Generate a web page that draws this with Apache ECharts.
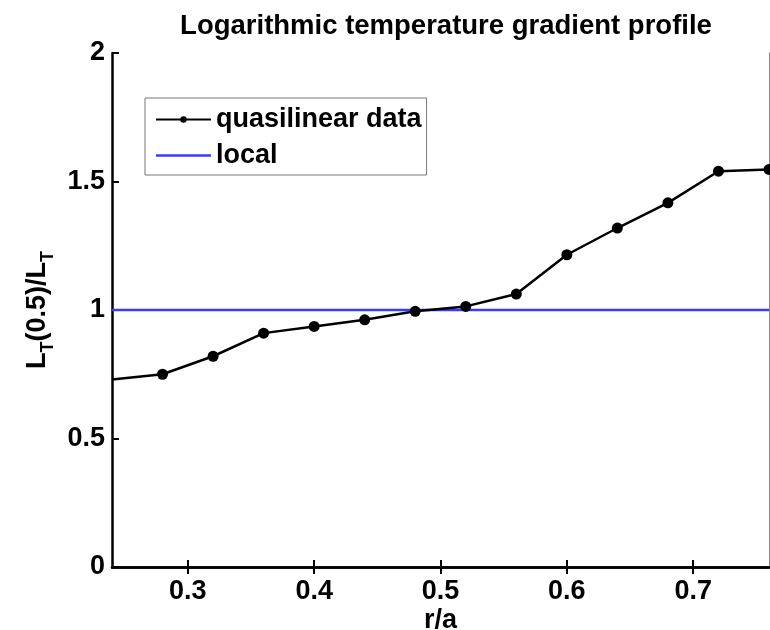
<!DOCTYPE html>
<html><head><meta charset="utf-8">
<script src="https://cdn.jsdelivr.net/npm/echarts@6/dist/echarts.min.js"></script>
<style>html,body{margin:0;padding:0;background:#fff}#c{width:770px;height:630px}</style>
</head><body><div id="c"></div>
<script>
var rOverA = [0.24, 0.28, 0.32, 0.36, 0.40, 0.44, 0.48, 0.52, 0.56, 0.60, 0.64, 0.68, 0.72, 0.76];
var quasilinear = [0.73, 0.75, 0.82, 0.91, 0.936, 0.962, 0.995, 1.014, 1.062, 1.215, 1.319, 1.417, 1.54, 1.547];
var localX = [0.24, 0.76];
var localY = [1, 1];
var xTicks = [0.3, 0.4, 0.5, 0.6, 0.7];
var yTicks = [0, 0.5, 1, 1.5, 2];

var font = 'Liberation Sans, Arial, Helvetica, sans-serif';
var chart = echarts.init(document.getElementById('c'));
var qData = rOverA.map(function (x, i) {
  var d = { value: [x, quasilinear[i]] };
  if (i === 0) d.symbolSize = 0;
  return d;
});
var lData = localX.map(function (x, i) { return [x, localY[i]]; });

chart.setOption({
  animation: false,
  backgroundColor: '#fff',
  title: {
    text: 'Logarithmic temperature gradient profile',
    left: 441, top: 7, textAlign: 'center',
    textStyle: { fontFamily: font, fontWeight: 'bold', fontSize: 27.5, color: '#000' }
  },
  grid: { left: 112, right: 1, top: 53, bottom: 63, outerBoundsMode: 'none', containLabel: false },
  legend: {
    left: 145, top: 98, orient: 'vertical',
    data: [
      { name: 'quasilinear data' },
      { name: 'local', icon: 'path://M0,0 L55,0 L55,2.5 L0,2.5 Z' }
    ],
    backgroundColor: '#fff', borderColor: '#777', borderWidth: 1,
    padding: [8, 5, 6, 10], itemGap: 9, itemWidth: 55, itemHeight: 8,
    textStyle: { fontFamily: font, fontWeight: 'bold', fontSize: 27, color: '#000', padding: [0, 0, 0, 0] }
  },
  xAxis: [{
    type: 'value', min: 0.24, max: 0.76, position: 'bottom',
    name: 'r/a', nameLocation: 'middle', nameGap: 40, nameMoveOverlap: false,
    nameTextStyle: { fontFamily: font, fontWeight: 'bold', fontSize: 27, color: '#000', verticalAlign: 'top' },
    axisLine: { show: true, lineStyle: { color: '#000', width: 2.5 } },
    axisTick: { show: true, inside: true, length: 7, customValues: xTicks, lineStyle: { color: '#000', width: 2 } },
    axisLabel: { customValues: xTicks, margin: 11, fontFamily: font, fontWeight: 'bold', fontSize: 27, color: '#000',
      formatter: function (v) { return v.toFixed(1); } },
    splitLine: { show: false }
  }, {
    type: 'value', min: 0.24, max: 0.76, position: 'top',
    axisLine: { show: true, lineStyle: { color: '#000', width: 2.5 } },
    axisTick: { show: true, inside: true, length: 7, customValues: xTicks, lineStyle: { color: '#000', width: 2 } },
    axisLabel: { show: false }, splitLine: { show: false }
  }],
  yAxis: [{
    type: 'value', min: 0, max: 2, interval: 0.5, position: 'left',
    name: '{n|L}{s|T}{n|(0.5)/L}{s|T}', nameLocation: 'middle', nameGap: 54, nameRotate: 90, nameMoveOverlap: false,
    nameTextStyle: {
      rich: {
        n: { fontFamily: font, fontWeight: 'bold', fontSize: 27, color: '#000', lineHeight: 34, verticalAlign: 'top' },
        s: { fontFamily: font, fontWeight: 'bold', fontSize: 18, color: '#000', lineHeight: 34, padding: [15, 0, 0, 0], verticalAlign: 'top' }
      }
    },
    axisLine: { show: true, lineStyle: { color: '#000', width: 2.5 } },
    axisTick: { show: true, inside: true, length: 7, lineStyle: { color: '#000', width: 2 } },
    axisLabel: { margin: 7, fontFamily: font, fontWeight: 'bold', fontSize: 27, color: '#000',
      customValues: yTicks, formatter: function (v) { return String(v); } },
    splitLine: { show: false }
  }, {
    type: 'value', min: 0, max: 2, interval: 0.5, position: 'right',
    axisLine: { show: true, lineStyle: { color: '#888', width: 1 } },
    axisTick: { show: false }, axisLabel: { show: false }, splitLine: { show: false }
  }],
  series: [{
    name: 'quasilinear data', type: 'line', data: qData,
    symbol: 'circle', symbolSize: 11, clip: true,
    lineStyle: { color: '#000', width: 2.5 }, itemStyle: { color: '#000' }, z: 3
  }, {
    name: 'local', type: 'line', data: lData, symbol: 'none', clip: true,
    lineStyle: { color: '#3a3aff', width: 2.5 }, itemStyle: { color: '#3a3aff' }, z: 2
  }]
});
</script></body></html>
